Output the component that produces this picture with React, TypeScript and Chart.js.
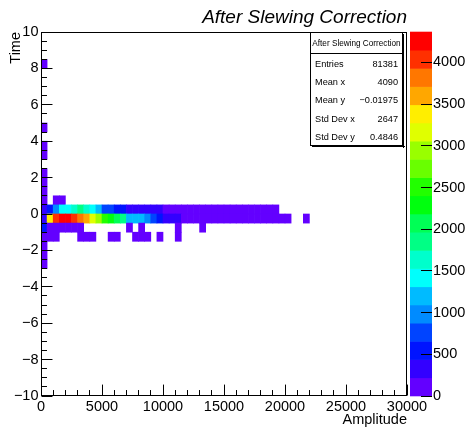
import React, { useEffect, useRef } from "react";
import { Chart, registerables } from "chart.js";

Chart.register(...registerables);

const FONT = "'Liberation Sans', Arial, Helvetica, sans-serif";

const TITLE = "After Slewing Correction";
const X_TITLE = "Amplitude";
const Y_TITLE = "Time";

// axis ranges and binning
const X_MIN = 0;
const X_MAX = 30000;
const X_BIN = 500;
const Y_MIN = -10;
const Y_MAX = 10;
const Y_BIN = 0.5;
const Z_MAX = 4365;
const N_CONTOURS = 20;

// tick spacing
const X_MAJOR = 5000;
const X_MINOR = 1000;
const Y_MAJOR = 2;
const Y_MINOR = 0.5;
const Z_MAJOR = 500;
const Z_TICKS = [0, 500, 1000, 1500, 2000, 2500, 3000, 3500, 4000];

// bin contents, one array per y-row (index = x-bin of width 500, starting at 0)
const ROW_LOW_EDGES = [0.5, 0, -0.5, -1, -1.5];
const COUNTS_Y_P050 = [75, 0, 42, 38];
const COUNTS_Y_P000 = [
  300, 550, 980, 1420, 1400, 1640, 1850, 1620, 1420, 1200,
  800, 700, 560, 480, 420, 405, 380, 350, 310, 270,
  205, 180, 176, 150, 162, 138, 120, 126, 104, 98,
  90, 84, 71, 66, 52, 47, 38, 29, 22,
];
const COUNTS_Y_M050 = [
  330, 3380, 4040, 4250, 4250, 4040, 3820, 3600, 3160, 2950,
  2500, 2400, 2070, 1860, 1200, 1150, 1100, 950, 700, 560,
  330, 300, 250, 200, 185, 170, 178, 150, 140, 131,
  118, 110, 96, 88, 74, 69, 55, 46, 35, 28,
  18, 0, 0, 12,
];
const COUNTS_Y_M100 = [
  520, 130, 110, 95, 70, 48, 30, 0, 0, 0,
  0, 0, 0, 0, 8, 0, 7, 0, 0, 0,
  0, 0, 5, 0, 0, 0, 4,
];
const COUNTS_Y_M150 = [
  40, 28, 22, 0, 0, 0, 9, 8, 6, 0,
  0, 5, 5, 0, 0, 4, 6, 4, 0, 3,
  0, 0, 3,
];
const ROW_COUNTS = [COUNTS_Y_P050, COUNTS_Y_P000, COUNTS_Y_M050, COUNTS_Y_M100, COUNTS_Y_M150];

// other cells of the first x-bin (0..500)
const COL0_LOW_EDGES = [8, 4.5, 3.5, 3, 2, 1.5, 1, -2, -2.5, -3];
const COL0_COUNTS = [6, 5, 4, 5, 9, 11, 14, 16, 9, 6];

// statistics box
const STAT_HEADER = "After Slewing Correction";
const STAT_LABELS = ["Entries", "Mean x", "Mean y", "Std Dev x", "Std Dev y"];
const STAT_VALUES = ["81381", "4090", "\u22120.01975", "2647", "0.4846"];

// ROOT "pretty" palette (hue 280 -> 0, 50 colours) sampled for 20 contours
function contourHue(j: number) {
  const idx = Math.floor(((j + 0.99) * 50) / N_CONTOURS);
  return 280 - (idx + 1) * (280 / 50);
}
const PALETTE = Array.from({ length: N_CONTOURS }, (_, j) => `hsl(${contourHue(j)}, 100%, 50%)`);

function colorFor(v: number) {
  const j = Math.min(N_CONTOURS - 1, Math.floor((v / Z_MAX) * N_CONTOURS));
  return PALETTE[j];
}

type Cell = { x: number; y: [number, number]; v: number };

function buildCells(): Cell[] {
  const cells: Cell[] = [];
  ROW_LOW_EDGES.forEach((lo, r) => {
    ROW_COUNTS[r].forEach((c, i) => {
      if (c > 0) cells.push({ x: X_MIN + (i + 0.5) * X_BIN, y: [lo, lo + Y_BIN], v: c });
    });
  });
  COL0_LOW_EDGES.forEach((lo, k) => {
    cells.push({ x: X_MIN + 0.5 * X_BIN, y: [lo, lo + Y_BIN], v: COL0_COUNTS[k] });
  });
  return cells;
}

const fmtNum = (v: number) => (v < 0 ? "\u2212" + Math.abs(v) : String(v));

const rootDecor = {
  id: "rootDecor",
  afterDatasetsDraw(chart: any) {
    const { ctx, chartArea: ca, scales } = chart;
    const xs = scales.x;
    const ys = scales.y;
    const zs = scales.z;
    ctx.save();

    // colour palette bar
    const cbX = Math.round(ca.right) + 3;
    const cbW = 22;
    const step = Z_MAX / N_CONTOURS;
    for (let j = 0; j < N_CONTOURS; j++) {
      const yb = zs.getPixelForValue(j * step);
      const yt = zs.getPixelForValue((j + 1) * step);
      ctx.fillStyle = PALETTE[j];
      ctx.fillRect(cbX, yt - 0.3, cbW, yb - yt + 0.6);
    }

    ctx.strokeStyle = "#000";
    ctx.lineWidth = 1;
    ctx.beginPath();
    for (let v = 0; v <= Z_MAX; v += Z_MAJOR) {
      const py = Math.floor(zs.getPixelForValue(v)) + 0.5;
      ctx.moveTo(cbX + cbW - 11, py);
      ctx.lineTo(cbX + cbW, py);
    }
    ctx.stroke();

    // frame
    const L = Math.round(ca.left) + 0.5;
    const R = Math.round(ca.right) - 0.5;
    const T = Math.round(ca.top) + 0.5;
    const B = Math.round(ca.bottom) - 0.5;
    ctx.strokeRect(L, T, R - L, B - T);

    // inward ticks
    const yLen = 0.03 * (ca.right - ca.left);
    const xLen = 0.03 * (ca.bottom - ca.top);
    ctx.beginPath();
    for (let k = 0; Y_MIN + k * Y_MINOR <= Y_MAX + 1e-9; k++) {
      const v = Y_MIN + k * Y_MINOR;
      const py = Math.floor(ys.getPixelForValue(v)) + 0.5;
      const major = Math.abs(v / Y_MAJOR - Math.round(v / Y_MAJOR)) < 1e-9;
      ctx.moveTo(L, py);
      ctx.lineTo(L + (major ? yLen : yLen / 2), py);
    }
    for (let v = X_MIN; v <= X_MAX; v += X_MINOR) {
      const px = Math.floor(xs.getPixelForValue(v)) + 0.5;
      const major = v % X_MAJOR === 0;
      ctx.moveTo(px, B);
      ctx.lineTo(px, B - (major ? xLen : xLen / 2));
    }
    ctx.stroke();

    // statistics box
    const bx0 = Math.round(ca.right) - 97;
    const bx1 = Math.round(ca.right) - 4;
    const by0 = Math.round(ca.top);
    const by1 = by0 + 114;
    ctx.fillStyle = "#fff";
    ctx.fillRect(bx0, by0, bx1 - bx0, by1 - by0);
    ctx.fillStyle = "#000";
    ctx.fillRect(bx1, by0 + 2, 1, by1 - by0);
    ctx.fillRect(bx0 + 2, by1, bx1 - bx0, 1);
    ctx.strokeRect(bx0 + 0.5, by0 + 0.5, bx1 - bx0 - 1, by1 - by0 - 1);
    ctx.beginPath();
    ctx.moveTo(bx0, by0 + 21.5);
    ctx.lineTo(bx1, by0 + 21.5);
    ctx.stroke();

    ctx.fillStyle = "#000";
    ctx.textBaseline = "middle";
    ctx.textAlign = "center";
    ctx.font = `8.2px ${FONT}`;
    ctx.fillText(STAT_HEADER, (bx0 + bx1) / 2, by0 + 12);
    ctx.font = `9.2px ${FONT}`;
    STAT_LABELS.forEach((lab, i) => {
      const ty = by0 + 32.5 + i * 18.2;
      ctx.textAlign = "left";
      ctx.fillText(lab, bx0 + 5, ty);
      ctx.textAlign = "right";
      ctx.fillText(STAT_VALUES[i], bx1 - 5, ty);
    });

    ctx.restore();
  },
};

export default function App() {
  const ref = useRef<HTMLCanvasElement>(null);

  useEffect(() => {
    if (!ref.current) return;
    Chart.defaults.font.family = FONT;
    Chart.defaults.color = "#000";
    const cells = buildCells();
    const tickFont = { family: FONT, size: 14.5 };

    const chart = new Chart(ref.current, {
      type: "bar",
      data: {
        datasets: [
          {
            data: cells as any,
            backgroundColor: cells.map((c) => colorFor(c.v)),
            borderWidth: 0,
            barPercentage: 1,
            categoryPercentage: 1,
            grouped: false,
          } as any,
        ],
      },
      options: {
        responsive: false,
        animation: false,
        events: [],
        layout: { padding: 0 },
        plugins: {
          legend: { display: false },
          tooltip: { enabled: false },
          title: {
            display: true,
            text: TITLE,
            align: "end",
            fullSize: false,
            color: "#000",
            font: { family: FONT, size: 19, style: "italic", weight: "normal", lineHeight: 1.2 },
            padding: { top: 6, bottom: 3.2 },
          },
        },
        scales: {
          x: {
            type: "linear",
            position: "bottom",
            min: X_MIN,
            max: X_MAX,
            offset: false,
            grid: { display: false, drawTicks: false },
            border: { display: false },
            ticks: {
              stepSize: X_MAJOR,
              autoSkip: false,
              maxRotation: 0,
              padding: 2,
              font: tickFont,
              color: "#000",
              callback: (v: any) => fmtNum(Number(v)),
            },
            title: {
              display: true,
              text: X_TITLE,
              align: "end",
              color: "#000",
              font: { family: FONT, size: 14.5, lineHeight: 1 },
              padding: { top: 0, bottom: 0 },
            },
            afterFit: (s: any) => {
              s.height = 31;
            },
          },
          y: {
            type: "linear",
            position: "left",
            min: Y_MIN,
            max: Y_MAX,
            grid: { display: false, drawTicks: false },
            border: { display: false },
            ticks: {
              stepSize: Y_MAJOR,
              autoSkip: false,
              padding: 2.5,
              font: tickFont,
              color: "#000",
              callback: (v: any) => fmtNum(Number(v)),
            },
            title: {
              display: true,
              text: Y_TITLE,
              align: "end",
              color: "#000",
              font: { family: FONT, size: 14.5, lineHeight: 1.2 },
              padding: { top: 7, bottom: 0 },
            },
            afterFit: (s: any) => {
              s.width = 41;
            },
          },
          z: {
            axis: "y",
            type: "linear",
            position: "right",
            min: 0,
            max: Z_MAX,
            grid: {
              display: true,
              drawOnChartArea: false,
              drawTicks: true,
              tickLength: 26,
              color: "rgba(0,0,0,0)",
            },
            border: { display: false },
            afterBuildTicks: (s: any) => {
              s.ticks = Z_TICKS.map((v) => ({ value: v }));
            },
            ticks: {
              autoSkip: false,
              padding: 0,
              font: tickFont,
              color: "#000",
              callback: (v: any) => fmtNum(Number(v)),
            },
            afterFit: (s: any) => {
              s.width = 60;
            },
          },
        } as any,
      },
      plugins: [rootDecor],
    });

    return () => chart.destroy();
  }, []);

  return (
    <div style={{ position: "fixed", left: 0, top: 0, width: 467, height: 427, background: "#fff" }}>
      <canvas ref={ref} width={467} height={427} style={{ display: "block", width: 467, height: 427 }} />
    </div>
  );
}
